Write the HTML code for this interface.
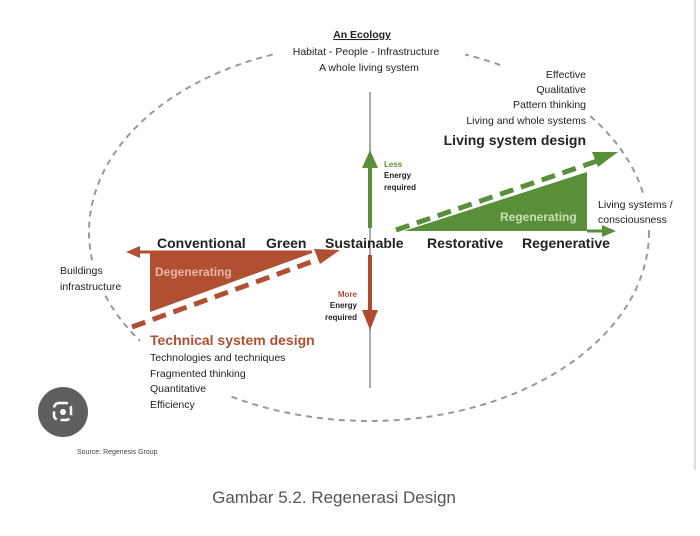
<!DOCTYPE html>
<html><head><style>
body{margin:0;width:700px;height:531px;background:#fff;overflow:hidden;font-family:"Liberation Sans",sans-serif}
</style></head><body>
<svg width="700" height="531" viewBox="0 0 700 531" xmlns="http://www.w3.org/2000/svg" font-family="Liberation Sans, sans-serif">
<ellipse cx="369" cy="232" rx="280" ry="189" fill="none" stroke="#999" stroke-width="2" stroke-dasharray="6,5"/>
<rect x="275" y="30" width="190" height="46" fill="#fff"/>
<rect x="432" y="66" width="157" height="84" fill="#fff"/>
<rect x="56" y="262" width="70" height="32" fill="#fff"/>
<rect x="140" y="330" width="190" height="60" fill="#fff"/>
<rect x="140" y="390" width="88" height="25" fill="#fff"/>
<rect x="594" y="196" width="92" height="32" fill="#fff"/>
<line x1="695" y1="0" x2="695" y2="470" stroke="#ddd" stroke-width="2"/>
<line x1="370" y1="92" x2="370" y2="388" stroke="#aaa" stroke-width="2"/>
<line x1="370" y1="228" x2="370" y2="165" stroke="#5a8f3a" stroke-width="4"/>
<polygon points="362,168 378,168 370,150" fill="#5a8f3a"/>
<line x1="370" y1="255" x2="370" y2="312" stroke="#b04a2e" stroke-width="4"/>
<polygon points="362,310 378,310 370,330" fill="#b04a2e"/>
<polygon points="150,253 312,253 150,312" fill="#b04f32"/>
<line x1="312" y1="252" x2="138" y2="252" stroke="#b04f32" stroke-width="3"/>
<polygon points="140,246 140,258 126,252" fill="#b04f32"/>
<line x1="132" y1="327" x2="322" y2="258" stroke="#b04f32" stroke-width="5" stroke-dasharray="14,8"/>
<polygon points="314,249 320,264 340,250" fill="#b04f32"/>
<polygon points="404,231 587,172 587,231" fill="#5a8f3a"/>
<line x1="587" y1="231" x2="604" y2="231" stroke="#5a8f3a" stroke-width="3"/>
<polygon points="602,225 602,237 616,231" fill="#5a8f3a"/>
<line x1="396" y1="230" x2="600" y2="160" stroke="#5a8f3a" stroke-width="5" stroke-dasharray="14,8"/>
<polygon points="592,152 598,167 618,152" fill="#5a8f3a"/>
<g font-weight="bold" fill="#222" font-size="14" text-anchor="start">
<text x="157" y="248">Conventional</text><text x="266" y="248">Green</text><text x="325" y="248">Sustainable</text><text x="427" y="248">Restorative</text><text x="522" y="248">Regenerative</text>
</g>
<text x="155" y="276" font-size="12" font-weight="bold" fill="#e8b8a8">Degenerating</text>
<text x="500" y="221" font-size="12" font-weight="bold" fill="#c8e0b8">Regenerating</text>
<g font-size="10.5" fill="#222" text-anchor="middle">
<text x="362" y="38" font-weight="bold" text-decoration="underline">An Ecology</text>
<text x="366" y="55">Habitat - People - Infrastructure</text>
<text x="369" y="71">A whole living system</text>
</g>
<g font-size="10.5" fill="#222" text-anchor="end">
<text x="586" y="78">Effective</text><text x="586" y="93">Qualitative</text><text x="586" y="108">Pattern thinking</text><text x="586" y="124">Living and whole systems</text>
<text x="586" y="145" font-size="14" font-weight="bold">Living system design</text>
</g>
<text x="598" y="208" font-size="10.5" fill="#222">Living systems /</text>
<text x="598" y="223" font-size="10.5" fill="#222">consciousness</text>
<text x="60" y="274" font-size="10.5" fill="#222">Buildings</text>
<text x="60" y="290" font-size="10.5" fill="#222">infrastructure</text>
<text x="150" y="345" font-size="14" font-weight="bold" fill="#b04f32">Technical system design</text>
<g font-size="10.5" fill="#222">
<text x="150" y="361">Technologies and techniques</text><text x="150" y="377">Fragmented thinking</text><text x="150" y="392">Quantitative</text><text x="150" y="408">Efficiency</text>
</g>
<g font-size="8" font-weight="bold">
<text x="384" y="167" fill="#5a8f3a">Less</text><text x="384" y="178" fill="#222">Energy</text><text x="384" y="190" fill="#222">required</text>
<text x="357" y="297" fill="#b04f32" text-anchor="end">More</text><text x="357" y="308" fill="#222" text-anchor="end">Energy</text><text x="357" y="320" fill="#222" text-anchor="end">required</text>
</g>
<circle cx="63" cy="412" r="25" fill="#5f5f5f"/>
<rect x="54" y="403" width="17" height="17" rx="5" fill="none" stroke="#fff" stroke-width="2.5" stroke-dasharray="9,4"/>
<circle cx="63" cy="412" r="3" fill="#fff"/>
<text x="77" y="454" font-size="7" fill="#444">Source: Regenesis Group</text>
<text x="334" y="503" font-size="17" fill="#555" text-anchor="middle">Gambar 5.2. Regenerasi Design</text>
</svg>
</body></html>
